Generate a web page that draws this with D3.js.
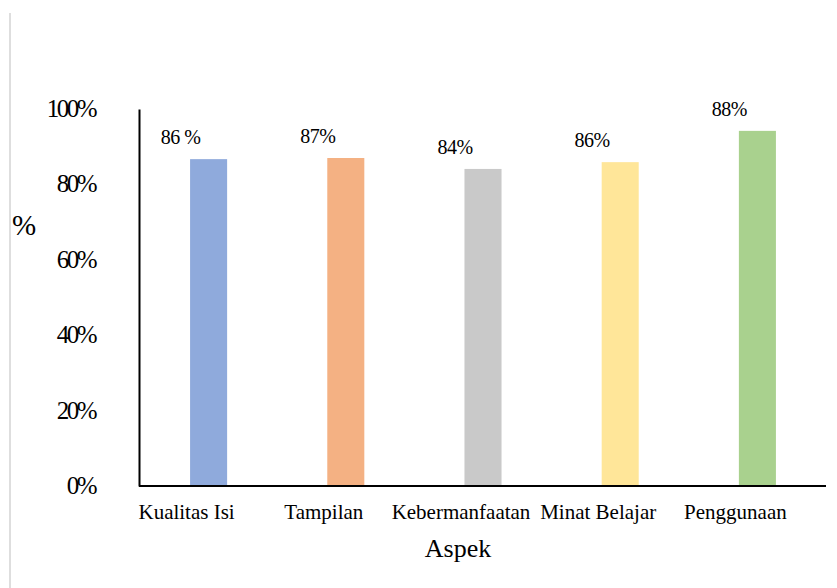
<!DOCTYPE html>
<html>
<head>
<meta charset="utf-8">
<script src="https://cdn.jsdelivr.net/npm/d3@7"></script>
<style>
  html, body { margin: 0; padding: 0; background: #fff; }
  svg, svg text { font-family: "Liberation Serif", "Times New Roman", serif !important; }
</style>
</head>
<body>
<svg id="chart" width="837" height="588"></svg>
<script>
const categories = ["Kualitas Isi", "Tampilan", "Kebermanfaatan", "Minat Belajar", "Penggunaan"];
const values = [0.867, 0.870, 0.841, 0.859, 0.942];
const valueLabels = ["86 %", "87%", "84%", "86%", "88%"];
const colors = ["#8faadc", "#f4b183", "#c9c9c9", "#ffe699", "#a9d18e"];
const yTicks = [0, 0.2, 0.4, 0.6, 0.8, 1.0];

const serif = "'Liberation Serif', 'Times New Roman', serif";
const svg = d3.select("#chart");

// left frame line
svg.append("line")
  .attr("x1", 10).attr("x2", 10).attr("y1", 13).attr("y2", 588)
  .attr("stroke", "#dedede").attr("stroke-width", 2);

const x = d3.scaleBand().domain(categories).range([140, 826]).padding(0);
const y = d3.scaleLinear().domain([0, 1]).range([486, 109]);
const barW = x.bandwidth() * 0.27;

// bars
svg.append("g").selectAll("rect").data(categories).join("rect")
  .attr("x", (d) => x(d) + x.bandwidth() / 2 - barW / 2)
  .attr("width", barW)
  .attr("y", (d, i) => y(values[i]))
  .attr("height", (d, i) => y(0) - y(values[i]))
  .attr("fill", (d, i) => colors[i]);

// y axis
const yAxis = d3.axisLeft(y).tickValues(yTicks).tickSize(0).tickPadding(44)
  .tickFormat(d3.format(".0%"));
const gy = svg.append("g").attr("transform", "translate(139,0)").call(yAxis);
gy.attr("font-family", null).attr("font-size", null);
gy.select(".domain").attr("stroke", "#000").attr("stroke-width", 2);
gy.selectAll("text")
  .style("font-family", serif)
  .style("font-size", "25px")
  .style("letter-spacing", "-2.5px")
  .attr("fill", "#000")
  .attr("dy", "0.3em");

// x axis
const xAxis = d3.axisBottom(x).tickSize(0).tickPadding(0).tickFormat("");
const gx = svg.append("g").attr("transform", "translate(0,486)").call(xAxis);
gx.select(".domain").attr("stroke", "#000").attr("stroke-width", 2).attr("d", "M139,0H826");

// category labels
svg.append("g").selectAll("text").data(categories).join("text")
  .attr("x", (d) => x(d) + x.bandwidth() / 2 - 22)
  .attr("y", 519)
  .attr("text-anchor", "middle")
  .style("font-family", serif)
  .style("font-size", "21px")
  .attr("fill", "#000")
  .text((d) => d);

// value labels
svg.append("g").selectAll("text").data(categories).join("text")
  .attr("x", (d) => x(d) + x.bandwidth() / 2 - 28)
  .attr("y", (d, i) => y(values[i]) - 15)
  .attr("text-anchor", "middle")
  .style("font-family", serif)
  .style("font-size", "20px")
  .style("letter-spacing", "-0.5px")
  .attr("fill", "#000")
  .text((d, i) => valueLabels[i]);

// axis titles
svg.append("text").attr("x", 458).attr("y", 557).attr("text-anchor", "middle")
  .style("font-family", serif).style("font-size", "26px").attr("fill", "#000").text("Aspek");
svg.append("text").attr("x", 12).attr("y", 235)
  .style("font-family", serif).style("font-size", "29px").attr("fill", "#000").text("%");
</script>
</body>
</html>
